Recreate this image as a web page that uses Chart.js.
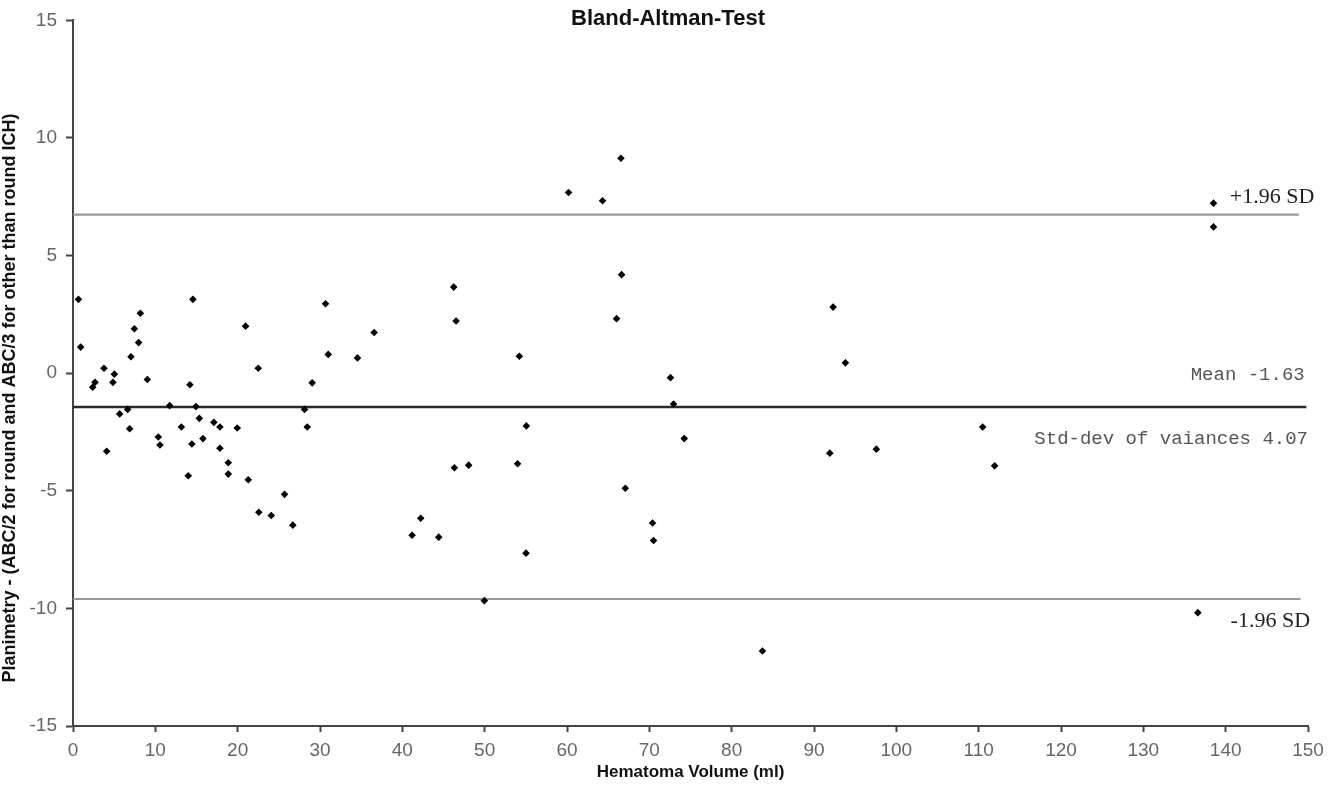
<!DOCTYPE html>
<html>
<head>
<meta charset="utf-8">
<script src="https://cdn.jsdelivr.net/npm/chart.js@4/dist/chart.umd.min.js"></script>
<style>
html,body{margin:0;padding:0;background:#fff;}
#wrap{position:relative;width:1336px;height:785px;}
</style>
</head>
<body>
<div id="wrap"><canvas id="c" width="1336" height="785"></canvas></div>
<script>
const chartTitle = "Bland-Altman-Test";
const xAxisTitle = "Hematoma Volume (ml)";
const yAxisTitle = "Planimetry - (ABC/2 for round and ABC/3 for other than round ICH)";

const volumes = [0.66,0.93,3.76,2.39,2.67,4.85,5.02,7.04,7.45,8.18,7.97,9.03,4.09,5.67,6.64,6.88,11.74,10.36,10.56,13.16,14.0,14.56,14.2,14.93,15.34,14.44,15.78,17.11,17.84,17.84,18.86,18.86,19.95,20.96,22.5,21.29,22.57,24.08,25.69,26.7,28.12,28.45,29.05,30.67,31.0,34.55,36.58,46.24,46.53,54.21,55.06,46.32,48.06,54.0,42.23,41.19,44.42,55.02,66.55,60.19,64.32,66.63,66.02,72.57,72.94,74.24,67.08,70.39,70.51,93.81,91.92,97.57,110.49,111.94,83.74,92.32,49.96,138.52,138.52,136.62];
const differences = [3.14,1.11,0.21,-0.60,-0.39,-0.39,-0.04,0.70,1.89,2.55,1.30,-0.27,-3.32,-1.73,-1.54,-2.36,-1.38,-2.71,-3.05,-2.29,-4.36,3.14,-0.49,-1.42,-1.92,-3.01,-2.78,-2.09,-2.29,-3.19,-3.81,-4.29,-2.33,2.00,0.21,-4.53,-5.91,-6.05,-5.15,-6.46,-1.54,-2.29,-0.41,2.95,0.80,0.65,1.73,3.66,2.22,0.72,-2.24,-4.02,-3.91,-3.85,-6.17,-6.89,-6.97,-7.65,9.14,7.68,7.33,4.19,2.32,-0.19,-1.31,-2.78,-4.89,-6.37,-7.11,0.44,-3.40,-3.23,-2.29,-3.94,-11.81,2.81,-9.67,7.23,6.22,-10.18];

const upperLimit = 6.74;
const meanLine = -1.44;
const lowerLimit = -9.60;
const upperLineX = [0, 148.9];
const meanLineX = [0, 149.8];
const lowerLineX = [0, 149.1];

const upperLabel = "+1.96 SD";
const lowerLabel = "-1.96 SD";
const meanLabel = "Mean -1.63";
const sdLabel = "Std-dev of vaiances 4.07";

const xTicks = [0,10,20,30,40,50,60,70,80,90,100,110,120,130,140,150];
const yTicks = [-15,-10,-5,0,5,10,15];

const points = volumes.map((v,i)=>({x:v, y:differences[i]}));

const annotPlugin = {
  id: 'annot',
  afterDraw(chart){
    const ctx = chart.ctx;
    const xs = chart.scales.x, ys = chart.scales.y;
    ctx.save();
    // title
    ctx.fillStyle = '#111';
    ctx.font = 'bold 22px "Liberation Sans", Arial, sans-serif';
    ctx.textAlign = 'center';
    ctx.textBaseline = 'middle';
    ctx.fillText(chartTitle, 668, 19);
    // y axis title
    ctx.save();
    ctx.translate(10, 398);
    ctx.rotate(-Math.PI/2);
    ctx.font = 'bold 18px "Liberation Sans", Arial, sans-serif';
    ctx.fillStyle = '#111';
    ctx.fillText(yAxisTitle, 0, 0);
    ctx.restore();
    // SD labels
    ctx.font = '22px "Liberation Serif", "Times New Roman", serif';
    ctx.fillStyle = '#222';
    ctx.textAlign = 'left';
    ctx.fillText(upperLabel, xs.getPixelForValue(140.5), ys.getPixelForValue(upperLimit) - 17);
    ctx.fillText(lowerLabel, xs.getPixelForValue(140.6), ys.getPixelForValue(lowerLimit) + 22);
    // mean labels
    ctx.font = '19px "Liberation Mono", "Courier New", monospace';
    ctx.fillStyle = '#555';
    ctx.textAlign = 'right';
    ctx.fillText(meanLabel, xs.getPixelForValue(149.6), ys.getPixelForValue(meanLine) - 32);
    ctx.fillText(sdLabel, xs.getPixelForValue(150), ys.getPixelForValue(meanLine) + 32);
    ctx.restore();
  }
};

const tickFont = {family: '"Liberation Sans Narrow", "Liberation Sans", Arial, sans-serif', size: 19};

new Chart(document.getElementById('c'), {
  type: 'scatter',
  data: {
    datasets: [
      {label:'Differences', data: points, backgroundColor:'#000', borderColor:'#000', pointStyle:'rectRot', pointRadius:3.8, pointBorderWidth:0, order:0},
      {label:'+1.96 SD', type:'line', data: upperLineX.map(x=>({x, y:upperLimit})), borderColor:'#9a9a9a', borderWidth:2.2, pointRadius:0, order:1},
      {label:'Mean', type:'line', data: meanLineX.map(x=>({x, y:meanLine})), borderColor:'#2a2a2a', borderWidth:2.6, pointRadius:0, order:1},
      {label:'-1.96 SD', type:'line', data: lowerLineX.map(x=>({x, y:lowerLimit})), borderColor:'#9a9a9a', borderWidth:2.2, pointRadius:0, order:1}
    ]
  },
  options: {
    responsive: false,
    animation: false,
    layout: {padding: {top: 15, right: 28, left: 0, bottom: 0}},
    plugins: {legend:{display:false}, tooltip:{enabled:false}, title:{display:false}},
    scales: {
      x: {
        type:'linear', min:0, max:150,
        afterBuildTicks: s => { s.ticks = xTicks.map(v=>({value:v})); },
        afterFit: s => { s.height = 59; },
        border: {display:true, color:'#444', width:2},
        grid: {drawOnChartArea:false, drawTicks:true, tickLength:6, color:'#444', tickWidth:2},
        ticks: {color:'#666', font: tickFont, padding: 7, maxRotation:0, autoSkip:false},
        title: {display:true, text: xAxisTitle, color:'#111', font:{family:'"Liberation Sans", Arial, sans-serif', size:17, weight:'bold'}, padding:{top:0,bottom:2}}
      },
      y: {
        type:'linear', min:-15, max:15,
        afterBuildTicks: s => { s.ticks = yTicks.map(v=>({value:v})); },
        afterFit: s => { s.width = 73; },
        border: {display:true, color:'#444', width:2},
        grid: {drawOnChartArea:false, drawTicks:true, tickLength:7, color:'#444', tickWidth:2},
        ticks: {color:'#666', font: tickFont, padding: 9},
        title: {display:false}
      }
    }
  },
  plugins: [annotPlugin]
});
</script>
</body>
</html>
